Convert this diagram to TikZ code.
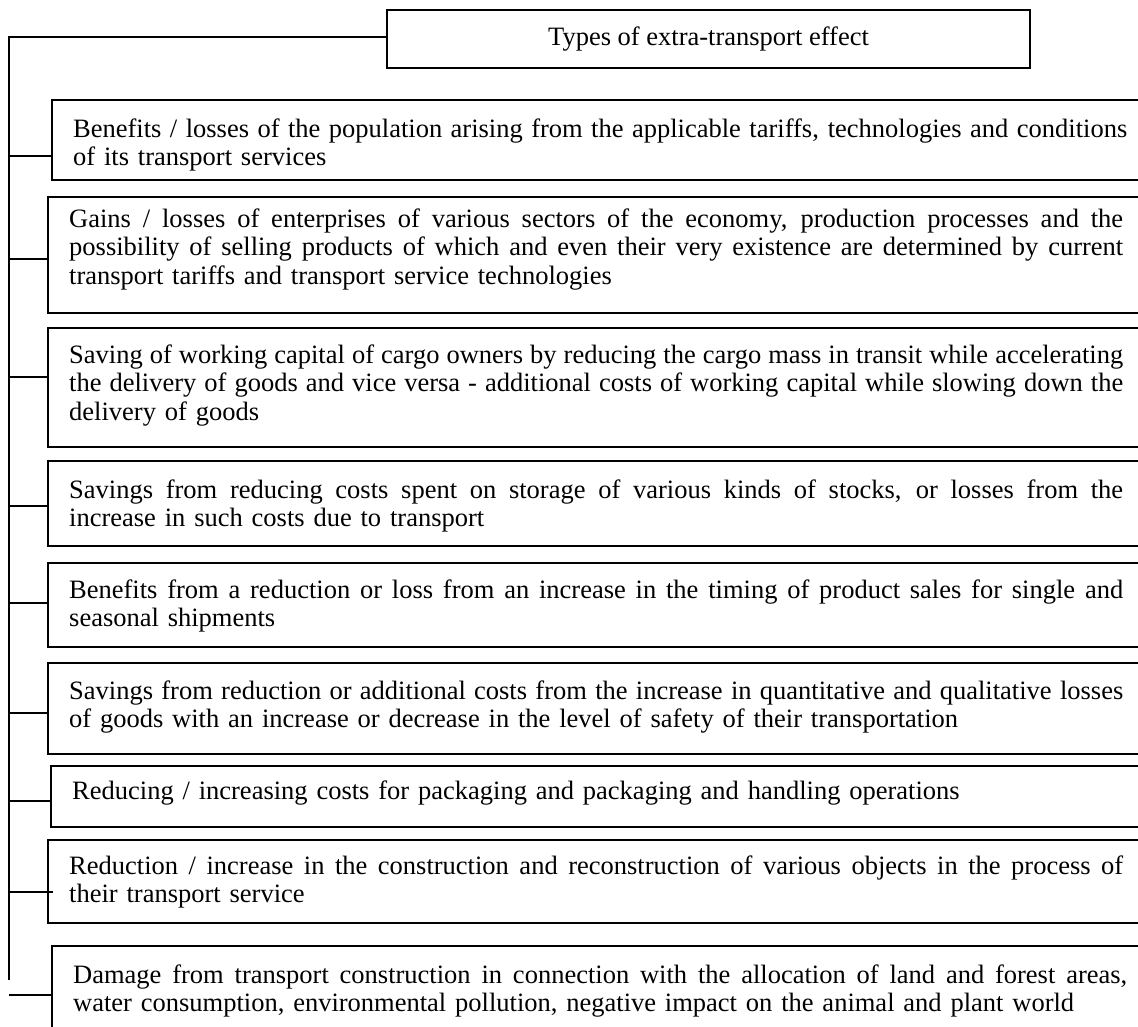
\documentclass[tikz,border=0pt]{standalone}
\usepackage{fontspec}
\setmainfont{Liberation Serif}
\newlength\tw
\setlength\tw{1054pt}
\newcommand\jl[1]{\leavevmode{\spaceskip=0.25em plus 1em minus 0.1em\relax\hbox to \tw{#1}}}
\begin{document}
\begin{tikzpicture}[x=1pt,y=-1pt,
  boxst/.style={draw, line width=1.6pt, anchor=north west, inner sep=0pt, outer sep=0pt, minimum width=1120pt},
  txt/.style={anchor=base west, inner sep=0pt, text width=\tw, align=left, font=\fontsize{26.5}{28.7}\selectfont},
  conn/.style={line width=1.6pt}]
\useasboundingbox (0,0) rectangle (1138,1026);
\clip (0,0) rectangle (1138,1026);
% title
\node[draw, line width=1.6pt, inner sep=0pt, outer sep=0pt, minimum width=643pt, minimum height=58pt, font=\fontsize{26.5}{28.7}\selectfont] (title) at (708.5,39) {Types of extra-transport effect};
% boxes
\node[boxst, minimum height=80pt]  (b1) at (52,100) {};
\node[boxst, minimum height=116pt] (b2) at (48,197) {};
\node[boxst, minimum height=119pt] (b3) at (48,328) {};
\node[boxst, minimum height=85pt]  (b4) at (48,461) {};
\node[boxst, minimum height=84pt]  (b5) at (48,563) {};
\node[boxst, minimum height=91pt]  (b6) at (48,663) {};
\node[boxst, minimum height=61pt]  (b7) at (51,766) {};
\node[boxst, minimum height=83pt]  (b8) at (48,840) {};
\node[boxst, minimum height=120pt] (b9) at (52,946) {};
% texts
\node[txt] (t1) at (73,137) {\jl{Benefits / losses of the population arising from the applicable tariffs, technologies and conditions}\\of its transport services};
\node[txt] (t2) at (69,227) {\jl{Gains / losses of enterprises of various sectors of the economy, production processes and the}\\\jl{possibility of selling products of which and even their very existence are determined by current}\\transport tariffs and transport service technologies};
\node[txt] (t3) at (69,363) {\jl{Saving of working capital of cargo owners by reducing the cargo mass in transit while accelerating}\\\jl{the delivery of goods and vice versa - additional costs of working capital while slowing down the}\\delivery of goods};
\node[txt] (t4) at (69,498) {\jl{Savings from reducing costs spent on storage of various kinds of stocks, or losses from the}\\increase in such costs due to transport};
\node[txt] (t5) at (69,598) {\jl{Benefits from a reduction or loss from an increase in the timing of product sales for single and}\\seasonal shipments};
\node[txt] (t6) at (69,699) {\jl{Savings from reduction or additional costs from the increase in quantitative and qualitative losses}\\of goods with an increase or decrease in the level of safety of their transportation};
\node[txt] (t7) at (72,799) {Reducing / increasing costs for packaging and packaging and handling operations};
\node[txt] (t8) at (69,874) {\jl{Reduction / increase in the construction and reconstruction of various objects in the process of}\\their transport service};
\node[txt] (t9) at (73,983) {\jl{Damage from transport construction in connection with the allocation of land and forest areas,}\\water consumption, environmental pollution, negative impact on the animal and plant world};
% trunk
\coordinate (trunkTop) at (9,37);
\coordinate (trunkEnd) at (9,980);
\draw[conn] (title.west |- trunkTop) -- (trunkTop) -- (trunkEnd);
% ticks
\draw[conn] (trunkTop |- 0,156) -- (b1.west |- 0,156);
\draw[conn] (trunkTop |- 0,259) -- (b2.west |- 0,259);
\draw[conn] (trunkTop |- 0,377) -- (b3.west |- 0,377);
\draw[conn] (trunkTop |- 0,506) -- (b4.west |- 0,506);
\draw[conn] (trunkTop |- 0,603) -- (b5.west |- 0,603);
\draw[conn] (trunkTop |- 0,713) -- (b6.west |- 0,713);
\draw[conn] (trunkTop |- 0,801) -- (b7.west |- 0,801);
\draw[conn] (trunkTop |- 0,892) -- ([xshift=5pt]b8.west |- 0,892);
\draw[conn] (trunkTop |- 0,995) -- (b9.west |- 0,995);
\end{tikzpicture}
\end{document}
